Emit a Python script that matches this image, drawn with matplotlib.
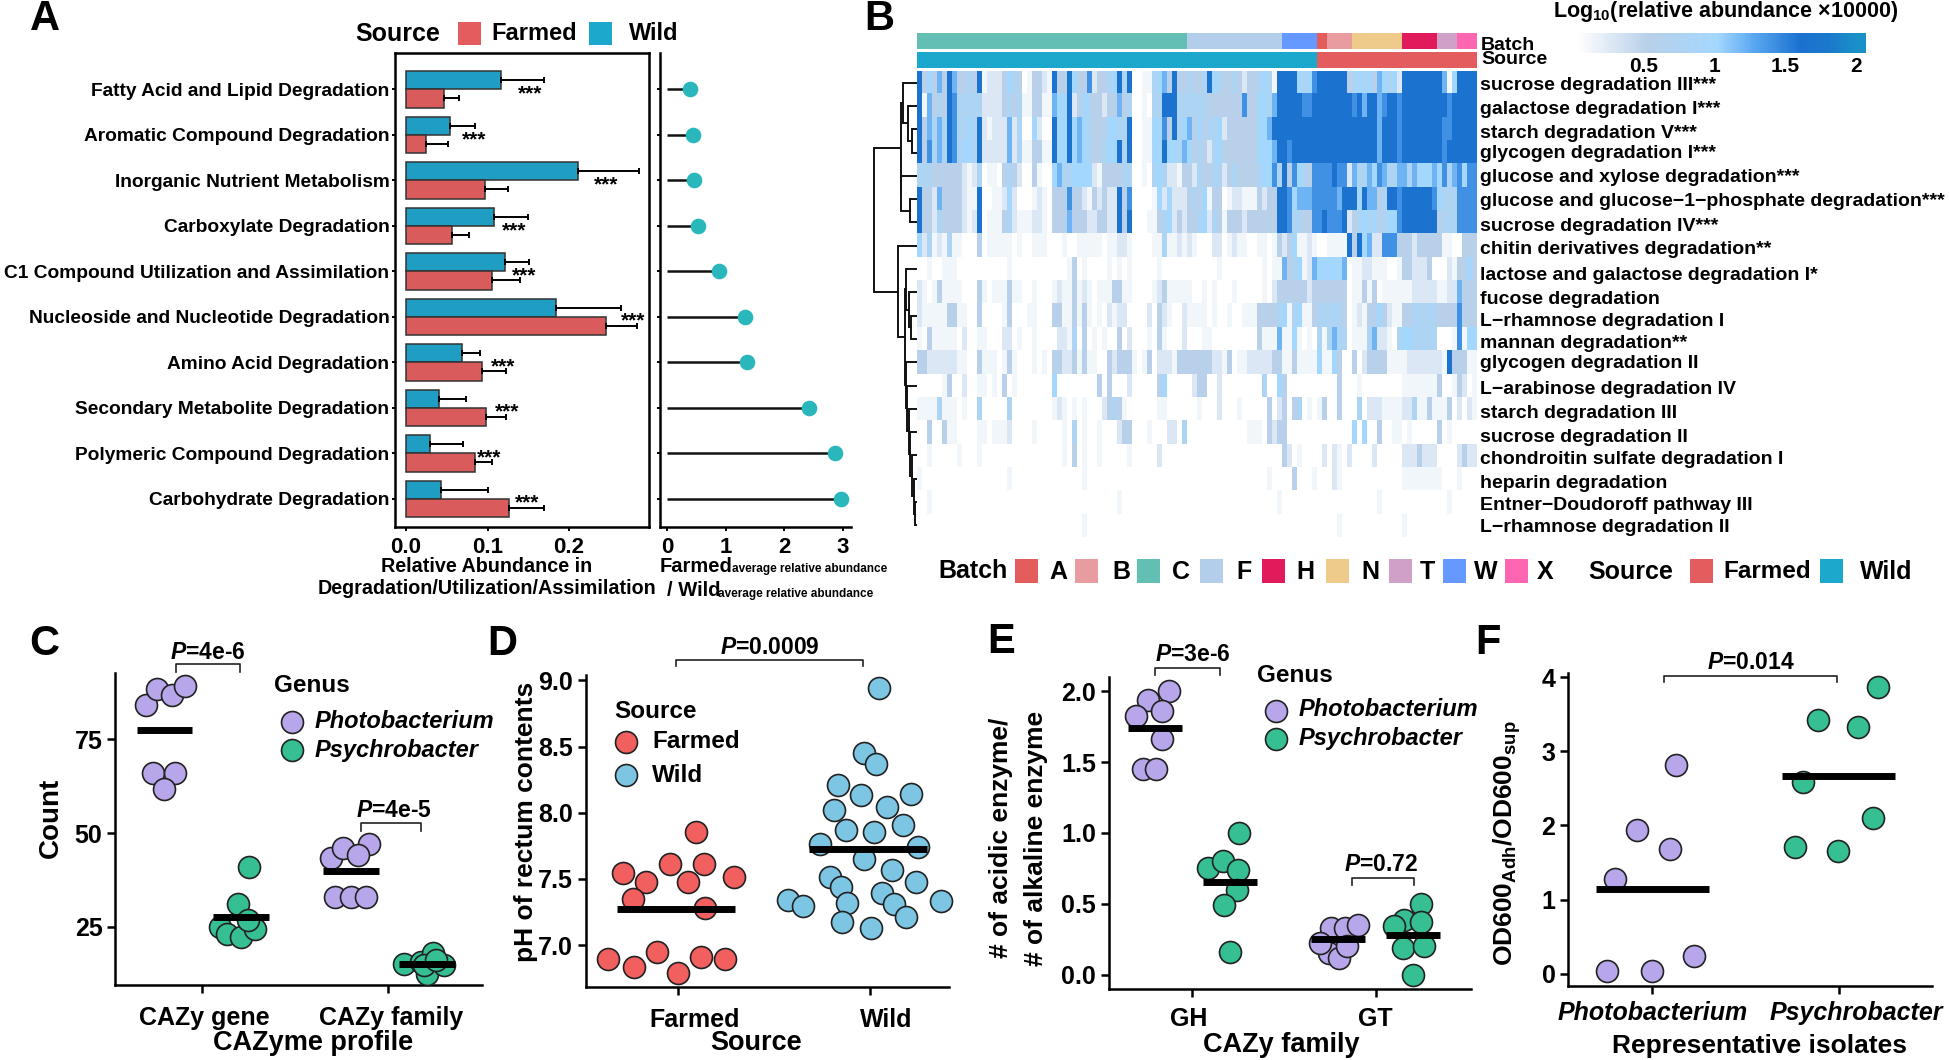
import numpy as np
import matplotlib
matplotlib.use('Agg')
import matplotlib.pyplot as plt
from matplotlib.colors import LinearSegmentedColormap, ListedColormap
from matplotlib.lines import Line2D
from matplotlib.patches import Rectangle
from matplotlib.transforms import ScaledTranslation

plt.rcParams['font.family'] = ['Liberation Sans', 'DejaVu Sans']
plt.rcParams['font.weight'] = 'bold'
plt.rcParams['mathtext.fontset'] = 'custom'
plt.rcParams['mathtext.rm'] = 'Liberation Sans:bold'
plt.rcParams['mathtext.it'] = 'Liberation Sans:italic:bold'
plt.rcParams['mathtext.bf'] = 'Liberation Sans:bold'

W, H = 1950, 1060

# ---- panel A
pathways = ['Fatty Acid and Lipid Degradation', 'Aromatic Compound Degradation',
            'Inorganic Nutrient Metabolism', 'Carboxylate Degradation',
            'C1 Compound Utilization and Assimilation', 'Nucleoside and Nucleotide Degradation',
            'Amino Acid Degradation', 'Secondary Metabolite Degradation',
            'Polymeric Compound Degradation', 'Carbohydrate Degradation']
wild_abund = [0.116, 0.054, 0.211, 0.108, 0.121, 0.184, 0.069, 0.040, 0.029, 0.043]
wild_upper = [0.169, 0.085, 0.286, 0.149, 0.151, 0.264, 0.091, 0.074, 0.070, 0.100]
farmed_abund = [0.047, 0.024, 0.097, 0.057, 0.106, 0.245, 0.093, 0.098, 0.084, 0.126]
farmed_upper = [0.065, 0.051, 0.125, 0.077, 0.140, 0.283, 0.123, 0.123, 0.106, 0.169]
star_x = [0.152, 0.084, 0.245, 0.133, 0.145, 0.279, 0.119, 0.124, 0.102, 0.148]
fold_change = [0.40, 0.45, 0.46, 0.53, 0.88, 1.33, 1.37, 2.42, 2.86, 2.97]

# ---- panel B, one digit per column, digit is the index into heat_levels
heat_levels = [0, 0.1, 0.25, 0.5, 0.75, 1.0, 1.2, 1.4, 1.6, 1.8]
heat_rows = [
    '8353638633' '4381222354' '3013321833' '9533723' '3458480011' '4563833433' '4854334323' '34541888'
    '85457' '888888' '34545365452' '88888888' '615' '8888',
    '8163438744' '4442222343' '4113311655' '8235433' '2336340010' '4488844444' '4333333373' '35546888'
    '8877888888' '8878688678' '8788888888' '8788888',
    '8364648744' '5482122262' '4005200855' '8565433' '3554480011' '5573845635' '3445233333' '35568888'
    '8888888888' '8888888688' '8788888888' '7788888',
    '8374648745' '5482222262' '4113311855' '8565433' '4558480011' '5585546534' '3245333333' '35556887'
    '8888888888' '8888888688' '8788888888' '7888888',
    '4443333332' '1240110343' '2003100564' '4555521' '3333440010' '4542213324' '3344234333' '34557483'
    '7543777787' '7264465764' '4664655565' '7467577',
    '8332633332' '1180011252' '0001210333' '7332132' '3228370000' '1525222343' '5133012211' '13233887'
    '5666777776' '8885866348' '8788888875' '4447777',
    '8332433332' '1280111342' '1112210333' '6333223' '3228380001' '1345232334' '5243133323' '33333887'
    '4433778777' '8234545345' '5788888883' '4447777',
    '5241214110' '0030111110' '1001110001' '0011111' '0112210000' '1141121210' '0022012110' '01101323'
    '5112100111' '1838562277' '7333233333' '1100333',
    '0010011100' '0000000010' '0000000000' '1301000' '0101010000' '0100000000' '0001000000' '00101163'
    '4512655555' '6011221110' '0133222300' '0213353',
    '2101311110' '0031011131' '1001000121' '1312101' '1133110000' '1231111100' '1010001000' '00102333'
    '3332333333' '3011313011' '1111222221' '1226333',
    '2111113311' '0030000130' '0011000331' '1313101021' '2200002032' '100211'
    '1101001001' '1133334514' '5113444443' '0121335321' '1334444433' '337333',
    '1031111102' '0011000220' '1001000022' '1403010100' '3020001031' '000200'
    '0110000000' '0031116115' '1010414644' '0111462210' '4554444400' '017155',
    '3322222211' '0031110131' '0001010332' '2313110032' '3331013022' '213333'
    '3332213011' '2222233113' '1111511530' '0302333311' '1122222221' '833311',
    '0000013002' '0011010301' '0000000500' '0000003030' '0020000035' '000002'
    '3300200000' '0004005300' '0000000030' '0010000000' '0111111130' '013201',
    '1111411101' '0040000040' '0000000121' '0101000234' '3100000011' '000000'
    '1000200010' '0000302303' '4010130030' '0040222111' '1224113111' '302021',
    '0030031100' '0011011120' '0001000001' '0401001000' '2330001000' '220400'
    '0000000000' '1110323300' '0000000000' '0505003001' '1010000030' '100000',
    '0010000010' '0010000000' '0000000001' '0301001000' '0010000020' '000000'
    '0000000000' '0000000320' '1000020210' '2000020000' '0222322200' '002322',
    '1000000000' '0000000010' '0000000000' '0001000000' '0000000000' '000000'
    '0000000000' '0000100003' '0001000210' '0000000000' '0111111110' '001000',
    '0010000000' '0000000000' '0000000000' '0000000000' '1000000000' '000000'
    '0000000000' '0000001000' '0000000000' '0000001000' '0000000000' '100000',
    '0000000000' '0000000000' '0000000000' '0001000000' '0000000000' '000000'
    '0000000000' '0000000000' '0000000010' '0000000000' '0100000000' '000000',
]
heat_labels = ['sucrose degradation III***', 'galactose degradation I***', 'starch degradation V***',
               'glycogen degradation I***', 'glucose and xylose degradation***',
               'glucose and glucose\u22121\u2212phosphate degradation***', 'sucrose degradation IV***',
               'chitin derivatives degradation**', 'lactose and galactose degradation I*',
               'fucose degradation', 'L\u2212rhamnose degradation I', 'mannan degradation**',
               'glycogen degradation II', 'L\u2212arabinose degradation IV', 'starch degradation III',
               'sucrose degradation II', 'chondroitin sulfate degradation I', 'heparin degradation',
               'Entner\u2212Doudoroff pathway III', 'L\u2212rhamnose degradation II']
heat_label_px = [86, 109, 134, 154, 177, 201, 226, 249, 276, 300, 321, 343, 363, 389, 414, 437, 460, 483, 505, 527]
batch_names = ['C', 'F', 'W', 'A', 'B', 'N', 'H', 'T', 'X']
batch_counts = [54, 19, 7, 2, 5, 10, 7, 4, 4]
batch_colors = {'A': '#E45C5C', 'B': '#E89CA0', 'C': '#63BFB4', 'F': '#B2CEEA', 'H': '#E01A5B',
                'N': '#EECB8A', 'T': '#D0A0C8', 'W': '#6699FF', 'X': '#FF66B2'}
source_names = ['Wild', 'Farmed']
source_counts = [80, 32]
# (height, left, right), leaves are row numbers
row_tree = (42.7,
            (16.0,
             (14.0, 0, (9.0, 1, (4.3, 2, 3))),
             (15.5, 4, (6.7, 5, 6))),
            (18.7, 7,
             (12.0,
              (10.7, 8, (8.0, 9, (6.0, 10, 11))),
              (10.7, 12, (10.0, 13, (7.7, 14, (6.7, 15, (5.0, 16, (3.0, 17, (1.5, 18, 19))))))))))

# ---- panel C
c_pho_gene_x = [0.699, 0.755, 0.835, 0.905, 0.735, 0.855, 0.796]
c_pho_gene_y = [84.2, 88.3, 86.8, 89.1, 65.9, 66.1, 61.7]
c_psy_gene_x = [1.251, 1.194, 1.094, 1.134, 1.21, 1.284, 1.244]
c_psy_gene_y = [41.0, 31.0, 25.0, 23.0, 22.2, 24.3, 26.8]
c_pho_fam_x = [1.693, 1.759, 1.896, 1.836, 1.713, 1.799, 1.882]
c_pho_fam_y = [43.2, 46.1, 47.1, 44.1, 33.0, 33.0, 33.0]
c_psy_fam_x = [2.085, 2.175, 2.241, 2.208, 2.301, 2.191, 2.258]
c_psy_fam_y = [15.0, 15.7, 17.9, 12.5, 14.8, 14.8, 16.1]
c_means = [77.5, 27.6, 39.9, 15.0]
c_mean_x = [(0.646, 0.945), (1.06, 1.36), (1.65, 1.95), (2.06, 2.36)]

# ---- panel D
d_farmed_x = [1.09, 0.955, 1.132, 0.713, 0.832, 1.29, 1.052, 0.765, 1.139, 0.632, 0.768, 0.89, 1.0, 1.116, 1.242]
d_farmed_y = [7.853, 7.616, 7.616, 7.548, 7.478, 7.511, 7.473, 7.352, 7.284, 6.894, 6.836, 6.945, 6.791, 6.912, 6.894]
d_wild_x = [2.045, 1.968, 2.029, 1.832, 2.213, 1.955, 1.813, 2.09, 2.171, 1.874, 2.023, 1.739, 2.252, 1.968,
            2.113, 1.79, 2.242, 1.848, 2.065, 1.574, 1.648, 1.881, 2.126, 2.371, 2.19, 1.852, 2.003]
d_wild_y = [8.94, 8.452, 8.371, 8.213, 8.145, 8.132, 8.024, 8.044, 7.906, 7.873, 7.855, 7.762, 7.742, 7.647,
            7.571, 7.511, 7.478, 7.44, 7.395, 7.34, 7.294, 7.319, 7.307, 7.335, 7.214, 7.176, 7.126]
d_means = [7.27, 7.727]
d_mean_x = [(0.68, 1.295), (1.68, 2.295)]

# ---- panel E
e_pho_gh_x = [0.878, 0.763, 0.837, 0.695, 0.837, 0.736, 0.803]
e_pho_gh_y = [2.002, 1.941, 1.859, 1.824, 1.664, 1.454, 1.454]
e_psy_gh_x = [1.254, 1.088, 1.169, 1.251, 1.244, 1.173, 1.207]
e_psy_gh_y = [1.0, 0.753, 0.805, 0.741, 0.595, 0.494, 0.16]
e_pho_gt_x = [1.753, 1.831, 1.902, 1.746, 1.797, 1.841, 1.695]
e_pho_gt_y = [0.329, 0.329, 0.353, 0.153, 0.118, 0.2, 0.224]
e_psy_gt_x = [2.244, 2.153, 2.241, 2.098, 2.146, 2.261, 2.2]
e_psy_gt_y = [0.499, 0.388, 0.369, 0.341, 0.188, 0.2, -0.005]
e_means = [1.744, 0.652, 0.252, 0.278]
e_mean_x = [(0.651, 0.949), (1.058, 1.356), (1.644, 1.942), (2.051, 2.346)]

# ---- panel F
f_pho_x = [0.759, 1.0, 1.221, 0.799, 1.097, 0.92, 1.127]
f_pho_y = [0.045, 0.036, 0.243, 1.276, 1.685, 1.933, 2.818]
f_psy_x = [2.211, 1.886, 2.104, 1.809, 2.184, 1.763, 1.997]
f_psy_y = [3.865, 3.425, 3.326, 2.584, 2.103, 1.717, 1.663]
f_means = [1.146, 2.67]
f_mean_x = [(0.699, 1.301), (1.696, 2.298)]

RED, BLUE = '#D95B5B', '#1F9DC2'
S_RED, S_BLUE = '#E35D5E', '#1CA8CC'
PURPLE, GREEN = '#B8A6EA', '#35BF93'
D_RED, D_BLUE = '#F25F5F', '#7CC6E4'
TEAL = '#2AB7BC'
MARKER = 250
LW = 1.8

fig = plt.figure(figsize=(W / 100, H / 100), dpi=100)


def fx(x):
    return x / W


def fy(y):
    return 1 - y / H


def px_axes(left, top, right, bottom):
    return fig.add_axes([fx(left), fy(bottom), (right - left) / W, (bottom - top) / H])


def ftext(x, y, s, size=18, ha='left', va='center', **kw):
    return fig.text(fx(x), fy(y), s, fontsize=size, ha=ha, va=va, fontweight='bold', **kw)


def fbox(x0, x1, y0, y1, color):
    fig.add_artist(Rectangle((fx(x0), fy(y1)), (x1 - x0) / W, (y1 - y0) / H, transform=fig.transFigure,
                             facecolor=color, edgecolor='none'))


def fdot(x, y, color, size=15.8):
    fig.add_artist(Line2D([fx(x)], [fy(y)], marker='o', markersize=size, markerfacecolor=color,
                          markeredgecolor='#222222', markeredgewidth=1.2, transform=fig.transFigure,
                          linestyle='none'))


def style_dot_axes(ax, xlim, ylim, xticks, xlabels, yticks, ylabels, shift=None, xstyle='normal', pad=9):
    ax.set_xlim(*xlim)
    ax.set_ylim(*ylim)
    ax.set_xticks(xticks)
    ax.set_xticklabels(xlabels, fontsize=18, fontstyle=xstyle)
    ax.set_yticks(yticks)
    ax.set_yticklabels(ylabels, fontsize=18)
    ax.tick_params(axis='x', length=6, width=LW, pad=pad)
    ax.tick_params(axis='y', length=6, width=LW, pad=3)
    for side in ('top', 'right'):
        ax.spines[side].set_visible(False)
    for side in ('left', 'bottom'):
        ax.spines[side].set_linewidth(LW)
    if shift:
        for label, dx in zip(ax.get_xticklabels(), shift):
            label.set_transform(label.get_transform() + ScaledTranslation(dx / 100, 0, fig.dpi_scale_trans))


def dots(ax, x, y, color):
    ax.scatter(x, y, s=MARKER, color=color, edgecolor='#222222', linewidth=1.2, zorder=3, clip_on=False)


def means(ax, values, spans):
    for value, (x0, x1) in zip(values, spans):
        ax.plot([x0, x1], [value, value], color='black', lw=5, solid_capstyle='butt', zorder=4)


def bracket(ax, x0, x1, y_top, y_tip, text, text_x, text_y):
    ax.plot([x0, x0, x1, x1], [y_tip, y_top, y_top, y_tip], color='#222222', lw=1.2, clip_on=False)
    ax.text(text_x, text_y, text, fontsize=16.5, ha='center', va='center', fontweight='bold')


def node_y(node):
    return node if isinstance(node, int) else (node_y(node[1]) + node_y(node[2])) / 2


def node_h(node):
    return 0 if isinstance(node, int) else node[0]


def draw_tree(ax, node):
    if isinstance(node, int):
        return
    h, left, right = node
    ax.plot([node_h(left), h, h, node_h(right)],
            [node_y(left) + 0.5, node_y(left) + 0.5, node_y(right) + 0.5, node_y(right) + 0.5],
            color='#111111', lw=1.4, solid_joinstyle='miter')
    draw_tree(ax, left)
    draw_tree(ax, right)


# ---- A bars
ax = px_axes(395, 53, 649, 527)
ypos = np.arange(len(pathways))[::-1]
ax.barh(ypos + 0.2, wild_abund, height=0.4, color=BLUE, edgecolor='#333333', linewidth=1.1)
ax.barh(ypos - 0.2, farmed_abund, height=0.4, color=RED, edgecolor='#333333', linewidth=1.1)
for y, m, u in zip(ypos + 0.2, wild_abund, wild_upper):
    ax.errorbar(m, y, xerr=[[0], [u - m]], color='black', lw=1.4, capsize=2.5, capthick=1.4)
for y, m, u in zip(ypos - 0.2, farmed_abund, farmed_upper):
    ax.errorbar(m, y, xerr=[[0], [u - m]], color='black', lw=1.4, capsize=2.5, capthick=1.4)
for y, x in zip(ypos, star_x):
    ax.text(x, y - 0.1, '***', fontsize=15, ha='center', va='center', fontweight='bold')
ax.set_xlim(-0.0135, 0.298)
ax.set_ylim(-0.62, 9.8)
ax.set_yticks(ypos)
ax.set_yticklabels(pathways, fontsize=13.8)
ax.set_xticks([0, 0.1, 0.2])
ax.set_xticklabels(['0.0', '0.1', '0.2'], fontsize=16)
ax.tick_params(axis='x', length=3, width=1.4, pad=4)
ax.tick_params(axis='y', length=2, width=1.4, pad=2)
for spine in ax.spines.values():
    spine.set_linewidth(LW)

# ---- A lollipops
ax = px_axes(660, 53, 851, 527)
ax.hlines(ypos, 0, fold_change, color='#111111', lw=1.8)
ax.scatter(fold_change, ypos, s=105, color=TEAL, zorder=3)
ax.set_xlim(-0.12, 3.14)
ax.set_ylim(-0.62, 9.8)
ax.set_yticks(ypos)
ax.set_yticklabels([])
ax.set_xticks([0, 1, 2, 3])
ax.set_xticklabels(['0', '1', '2', '3'], fontsize=16)
ax.tick_params(axis='x', length=3, width=1.4, pad=4)
ax.tick_params(axis='y', length=2, width=1.4)
for side in ('top', 'right'):
    ax.spines[side].set_visible(False)
for side in ('left', 'bottom'):
    ax.spines[side].set_linewidth(LW)

ftext(487, 566, 'Relative Abundance in', 14.2, ha='center')
ftext(487, 589, 'Degradation/Utilization/Assimilation', 14.2, ha='center')
ftext(660, 566, 'Farmed', 14.5)
ftext(732, 569, 'average relative abundance', 8.5)
ftext(667, 591, '/ Wild', 14.5)
ftext(718, 594, 'average relative abundance', 8.5)

ftext(398, 34, 'Source', 18, ha='center')
fbox(458, 481, 22, 45, S_RED)
ftext(491, 34, 'Farmed', 17)
fbox(589, 612, 22, 45, S_BLUE)
ftext(629, 34, 'Wild', 17)

# ---- B heatmap
heat = np.array([[heat_levels[int(c)] for c in row] for row in heat_rows])
heat_cmap = LinearSegmentedColormap.from_list('heat', [(0, '#FFFFFF'), (0.25, '#B9D0EA'), (0.5, '#A5D8FF'),
                                                       (0.64, '#58A6F0'), (0.8, '#1B72CF'), (0.9, '#1B78CC'),
                                                       (1, '#1A90C8')])
ax = px_axes(916.5, 71, 1476, 537)
ax.imshow(heat, cmap=heat_cmap, vmin=0, vmax=2, aspect='auto', interpolation='nearest')
ax.axis('off')

ax = px_axes(873, 71, 916.5, 537)
draw_tree(ax, row_tree)
ax.set_xlim(43.5, 0)
ax.set_ylim(20, 0)
ax.axis('off')

ax = px_axes(916.5, 33, 1476, 49)
batch_strip = np.repeat(np.arange(len(batch_names)), batch_counts)[None, :]
ax.imshow(batch_strip, cmap=ListedColormap([batch_colors[b] for b in batch_names]), aspect='auto',
          interpolation='nearest')
ax.axis('off')

ax = px_axes(916.5, 52, 1476, 68)
source_strip = np.repeat(np.arange(len(source_names)), source_counts)[None, :]
ax.imshow(source_strip, cmap=ListedColormap([S_BLUE, S_RED]), aspect='auto', interpolation='nearest')
ax.axis('off')

ftext(1481, 45, 'Batch', 14)
ftext(1481, 60, 'Source', 14)
for label, y in zip(heat_labels, heat_label_px):
    ftext(1480, y, label, 14)

# colour key
ax = px_axes(1577, 33, 1866, 53)
ax.imshow(np.linspace(0, 2.07, 256)[None, :], cmap=heat_cmap, vmin=0, vmax=2, aspect='auto',
          extent=[0.03, 2.07, 0, 1])
ax.set_xticks([0.5, 1, 1.5, 2])
ax.set_xticklabels(['0.5', '1', '1.5', '2'], fontsize=15)
ax.set_yticks([])
ax.tick_params(axis='x', length=0, pad=3)
for spine in ax.spines.values():
    spine.set_visible(False)
ftext(1726, 12, 'Log$_{10}$(relative abundance \u00d710000)', 15.5, ha='center')

# batch and source legend row
ftext(938, 571, 'Batch', 18)
key_x = [1015, 1075, 1137, 1200, 1262, 1326, 1389, 1443, 1505]
key_names = ['A', 'B', 'C', 'F', 'H', 'N', 'T', 'W', 'X']
label_x = [1049, 1112, 1172, 1236, 1296, 1361, 1420, 1474, 1537]
for x, name, tx in zip(key_x, key_names, label_x):
    fbox(x, x + 23, 559, 583, batch_colors[name])
    ftext(tx, 572, name, 18)
ftext(1588, 572, 'Source', 18)
fbox(1690, 1713, 559, 583, S_RED)
ftext(1723, 572, 'Farmed', 17.5)
fbox(1820, 1843, 559, 583, S_BLUE)
ftext(1860, 572, 'Wild', 18)

# ---- C
ax = px_axes(115, 673, 482, 985)
style_dot_axes(ax, (0.53, 2.505), (9.44, 92.7), [1, 2], ['CAZy gene', 'CAZy family'], [25, 50, 75],
               ['25', '50', '75'], shift=[2, 3])
dots(ax, c_pho_gene_x, c_pho_gene_y, PURPLE)
dots(ax, c_psy_gene_x, c_psy_gene_y, GREEN)
dots(ax, c_pho_fam_x, c_pho_fam_y, PURPLE)
dots(ax, c_psy_fam_x, c_psy_fam_y, GREEN)
means(ax, c_means, c_mean_x)
bracket(ax, 0.858, 1.2, 95.0, 93.1, '$\\mathit{P}$=4e-6', 1.03, 98.3)
bracket(ax, 1.856, 2.175, 52.8, 50.6, '$\\mathit{P}$=4e-5', 2.03, 56)
ftext(51, 818, 'Count', 20, ha='center', rotation=90)
ftext(313, 1043, 'CAZyme profile', 19.5, ha='center')
ftext(274, 686, 'Genus', 17.5)
fdot(292, 722, PURPLE)
ftext(315, 721, 'Photobacterium', 17, fontstyle='italic')
fdot(292, 750, GREEN)
ftext(315, 750, 'Psychrobacter', 17, fontstyle='italic')

# ---- D
ax = px_axes(585.6, 675, 949, 986.7)
style_dot_axes(ax, (0.516, 2.412), (6.686, 9.04), [1, 2], ['Farmed', 'Wild'], [7, 7.5, 8, 8.5, 9],
               ['7.0', '7.5', '8.0', '8.5', '9.0'], shift=[16, 16])
dots(ax, d_farmed_x, d_farmed_y, D_RED)
dots(ax, d_wild_x, d_wild_y, D_BLUE)
means(ax, d_means, d_mean_x)
bracket(ax, 0.987, 1.961, 9.156, 9.106, '$\\mathit{P}$=0.0009', 1.477, 9.25)
ftext(526, 822, 'pH of rectum contents', 19, ha='center', rotation=90)
ftext(756, 1043, 'Source', 19.5, ha='center')
ftext(614, 711, 'Source', 17.5)
fdot(626, 742, D_RED)
ftext(652, 742, 'Farmed', 17.5)
fdot(626, 775, D_BLUE)
ftext(652, 775, 'Wild', 17.5)

# ---- E
ax = px_axes(1108.75, 677, 1471, 989)
style_dot_axes(ax, (0.549, 2.515), (-0.101, 2.101), [1, 2], ['GH', 'GT'], [0, 0.5, 1, 1.5, 2],
               ['0.0', '0.5', '1.0', '1.5', '2.0'], shift=[-3, -1], pad=7)
dots(ax, e_pho_gh_x, e_pho_gh_y, PURPLE)
dots(ax, e_psy_gh_x, e_psy_gh_y, GREEN)
dots(ax, e_pho_gt_x, e_pho_gt_y, PURPLE)
dots(ax, e_psy_gt_x, e_psy_gt_y, GREEN)
means(ax, e_means, e_mean_x)
bracket(ax, 0.8, 1.153, 2.165, 2.113, '$\\mathit{P}$=3e-6', 1.007, 2.259)
bracket(ax, 1.871, 2.203, 0.682, 0.635, '$\\mathit{P}$=0.72', 2.027, 0.776)
ftext(1001, 838, '# of acidic enzyme/', 19, ha='center', rotation=90)
ftext(1036, 838, '# of alkaline enzyme', 19, ha='center', rotation=90)
ftext(1281, 1045, 'CAZy family', 19.5, ha='center')
ftext(1257, 675, 'Genus', 17.5)
fdot(1276, 711, PURPLE)
ftext(1299, 710, 'Photobacterium', 17, fontstyle='italic')
fdot(1276, 739, GREEN)
ftext(1299, 739, 'Psychrobacter', 17, fontstyle='italic')

# ---- F
ax = px_axes(1568, 673, 1932, 986)
style_dot_axes(ax, (0.548, 2.498), (-0.162, 4.054), [1, 2], ['Photobacterium', 'Psychrobacter'], [0, 1, 2, 3, 4],
               ['0', '1', '2', '3', '4'], shift=[0, 17], xstyle='italic', pad=5)
dots(ax, f_pho_x, f_pho_y, PURPLE)
dots(ax, f_psy_x, f_psy_y, GREEN)
means(ax, f_means, f_mean_x)
bracket(ax, 1.064, 1.99, 4.018, 3.933, '$\\mathit{P}$=0.014', 1.53, 4.2)
ftext(1507, 843, 'OD600$_{\\mathbf{Adh}}$/OD600$_{\\mathbf{sup}}$', 19, ha='center', rotation=90)
ftext(1759, 1046, 'Representative isolates', 19, ha='center')

# panel letters
for letter, x, y in (('A', 45, 19), ('B', 879, 19), ('C', 44, 644), ('D', 502, 644), ('E', 1001, 642), ('F', 1488, 643)):
    ftext(x, y, letter, 30, ha='center')

plt.savefig('out.png', dpi=100)
